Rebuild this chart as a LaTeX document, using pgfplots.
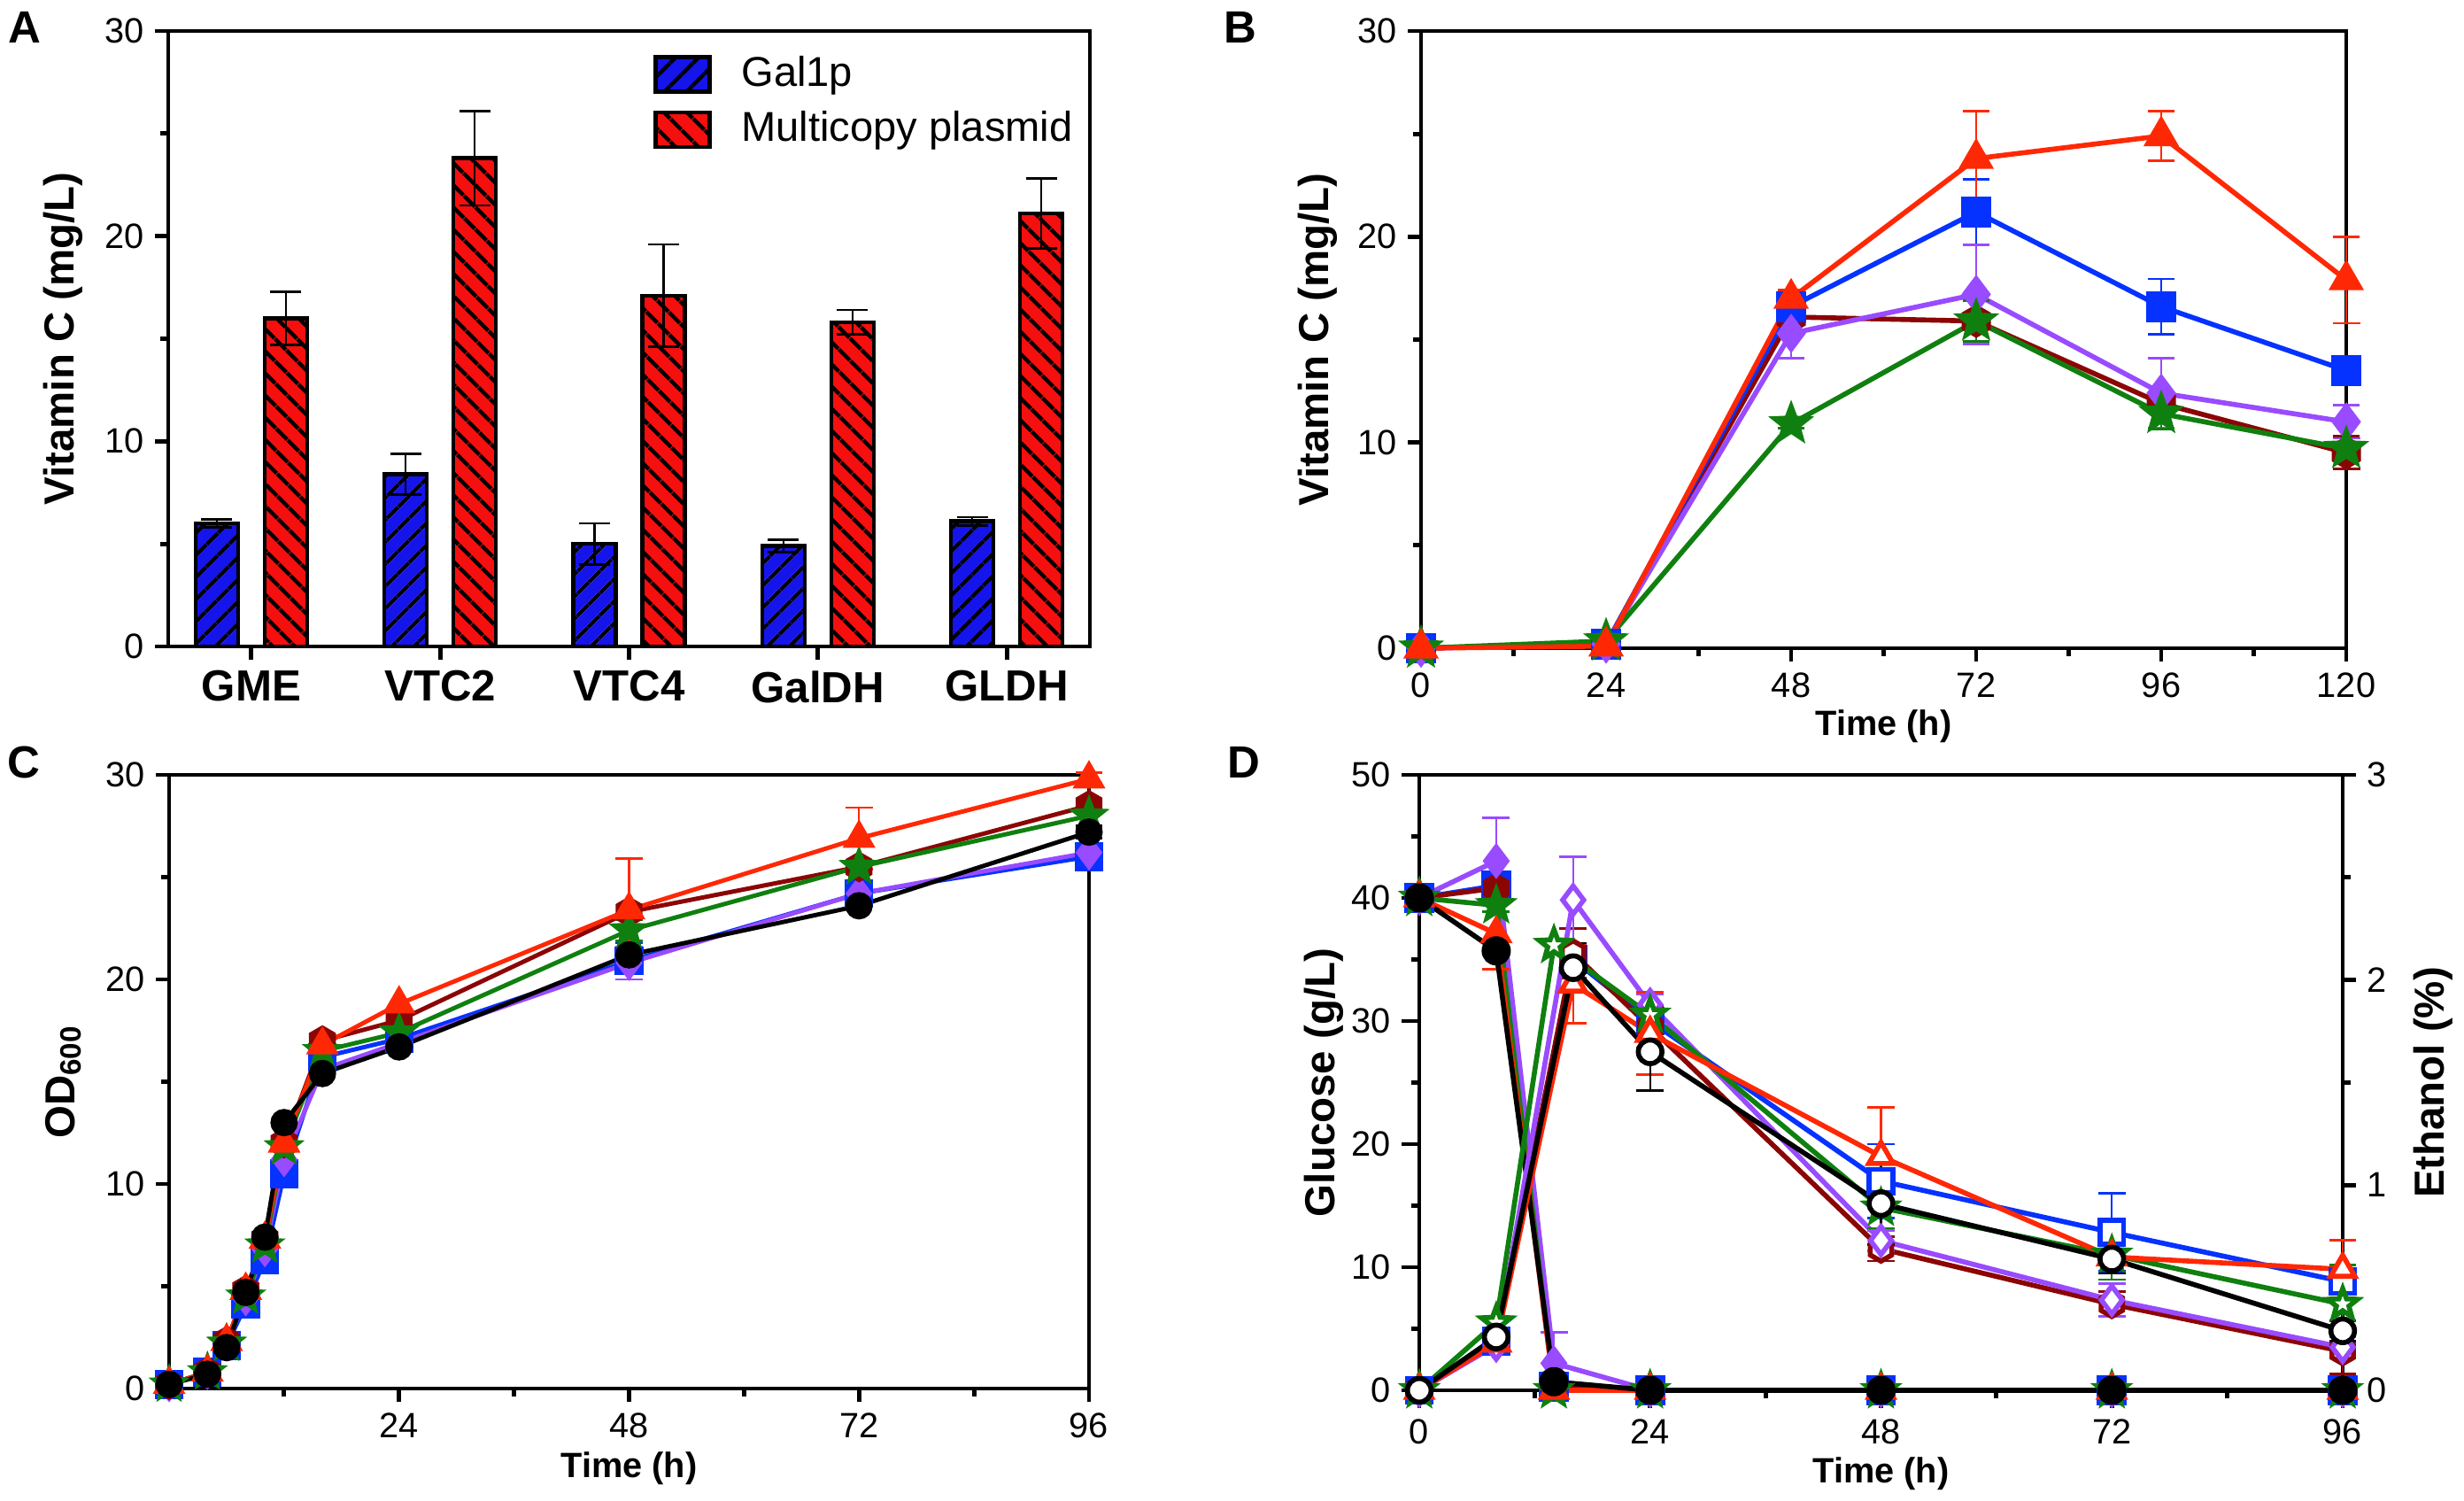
\documentclass[border=0pt]{standalone}
\usepackage{fontspec}
\setmainfont{Liberation Sans}
\usepackage{pgfplots}
\pgfplotsset{compat=1.18}
\usetikzlibrary{patterns.meta}

\definecolor{cblue}{RGB}{5,50,255}
\definecolor{cred}{RGB}{255,40,5}
\definecolor{cbrown}{RGB}{140,5,5}
\definecolor{cpurple}{RGB}{153,75,255}
\definecolor{cgreen}{RGB}{15,128,15}
\definecolor{barblue}{RGB}{20,20,235}
\definecolor{barred}{RGB}{245,15,15}

\newcommand\tickfont{\fontsize{11.3}{13}\selectfont}
\newcommand\labfont{\bfseries\fontsize{13.5}{15}\selectfont}
\newcommand\timefont{\bfseries\fontsize{11.3}{13}\selectfont}
\newcommand\catfont{\bfseries\fontsize{14}{16}\selectfont}
\newcommand\legfont{\fontsize{13.4}{15}\selectfont}
\newcommand\letfont{\bfseries\fontsize{14.5}{16}\selectfont}

% filled hexagon and five-point star marks
\pgfdeclareplotmark{hexa}{%
  \pgfpathmoveto{\pgfpointpolar{90}{\pgfplotmarksize}}%
  \pgfpathlineto{\pgfpointpolar{150}{\pgfplotmarksize}}%
  \pgfpathlineto{\pgfpointpolar{210}{\pgfplotmarksize}}%
  \pgfpathlineto{\pgfpointpolar{270}{\pgfplotmarksize}}%
  \pgfpathlineto{\pgfpointpolar{330}{\pgfplotmarksize}}%
  \pgfpathlineto{\pgfpointpolar{30}{\pgfplotmarksize}}%
  \pgfpathclose\pgfusepathqfillstroke}
\pgfdeclareplotmark{fstar}{%
  \pgfpathmoveto{\pgfpointpolar{90}{\pgfplotmarksize}}%
  \pgfpathlineto{\pgfpointpolar{126}{0.42\pgfplotmarksize}}%
  \pgfpathlineto{\pgfpointpolar{162}{\pgfplotmarksize}}%
  \pgfpathlineto{\pgfpointpolar{198}{0.42\pgfplotmarksize}}%
  \pgfpathlineto{\pgfpointpolar{234}{\pgfplotmarksize}}%
  \pgfpathlineto{\pgfpointpolar{270}{0.42\pgfplotmarksize}}%
  \pgfpathlineto{\pgfpointpolar{306}{\pgfplotmarksize}}%
  \pgfpathlineto{\pgfpointpolar{342}{0.42\pgfplotmarksize}}%
  \pgfpathlineto{\pgfpointpolar{18}{\pgfplotmarksize}}%
  \pgfpathlineto{\pgfpointpolar{54}{0.42\pgfplotmarksize}}%
  \pgfpathclose\pgfusepathqfillstroke}

\pgfplotsset{
  panel/.style={scale only axis, clip=false, tick pos=left, tick align=outside,
    axis line style={line width=1.4pt},
    major tick style={line width=1.4pt,black}, minor tick style={line width=1.4pt,black},
    major tick length=0.15cm, minor tick length=0.09cm,
    /pgf/number format/assume math mode=true,
    tick label style={font=\tickfont},
    error bars/error bar style={line width=0.7pt, solid},
    error bars/error mark options={rotate=90, mark size=4.4pt, line width=0.8pt, solid},
  },
  ylab/.style={every axis y label/.style={at={(axis description cs:#1,0.5)}, rotate=90, anchor=center, font=\labfont}},
  xlab/.style={every axis x label/.style={at={(axis description cs:0.5,#1)}, anchor=center, font=\timefont}},
  ser/.style={line width=1.6pt, color=#1, mark options={solid}},
  hatchleg/.style={legend image code/.code={\draw[##1,/tikz/.cd] (0cm,-0.195cm) rectangle (0.61cm,0.195cm);}},
}

\begin{document}
\begin{tikzpicture}
\useasboundingbox (0,0) rectangle (27.83,16.94);

\node[font=\letfont] at (0.28,16.63) {A};
\node[font=\letfont] at (14.01,16.63) {B};
\node[font=\letfont] at (0.27,8.33) {C};
\node[font=\letfont] at (14.05,8.33) {D};

% ---------- A ----------
\begin{axis}[panel, at={(1.90cm,9.64cm)}, anchor=south west,
  width=10.41cm, height=6.95cm,
  ybar, bar width=0.48cm,
  xmin=-0.44, xmax=4.44, ymin=0, ymax=30,
  xtick={0,1,2,3,4}, xticklabels={GME,VTC2,VTC4,GalDH,GLDH},
  xticklabel style={font=\catfont},
  ytick={0,10,20,30}, minor ytick={5,15,25},
  ylabel={Vitamin C (mg/L)}, ylab=-0.114,
  error bars/error mark options={rotate=90, mark size=5pt, line width=0.8pt, solid},
  legend style={at={(0.526,0.965)}, anchor=north west, draw=none, fill=none,
    inner sep=0pt, row sep=0.14cm, font=\legfont,
    nodes={inner sep=1pt, text depth=0.2em},
    /tikz/every odd column/.append style={column sep=0.3cm}},
  legend cell align=left,
]
\addplot[fill=barblue, draw=black, line width=1.3pt, bar shift=-0.39cm, hatchleg,
  postaction={pattern={Lines[angle=45,distance=0.18cm,line width=1.3pt]}, pattern color=black},
  error bars/.cd, y dir=both, y explicit]
  coordinates {(0,6.0) +- (0,0.2) (1,8.4) +- (0,1.0) (2,5.0) +- (0,1.0) (3,4.9) +- (0,0.3) (4,6.1) +- (0,0.2)};
\addlegendentry{Gal1p}
\addplot[fill=barred, draw=black, line width=1.3pt, bar shift=0.39cm, hatchleg,
  postaction={pattern={Lines[angle=-45,distance=0.18cm,line width=1.3pt]}, pattern color=black},
  error bars/.cd, y dir=both, y explicit]
  coordinates {(0,16.0) +- (0,1.3) (1,23.8) +- (0,2.3) (2,17.1) +- (0,2.5) (3,15.8) +- (0,0.6) (4,21.1) +- (0,1.7)};
\addlegendentry{Multicopy plasmid}
\end{axis}

% ---------- B ----------
\begin{axis}[panel, at={(16.05cm,9.62cm)}, anchor=south west,
  width=10.45cm, height=6.97cm,
  xmin=0, xmax=120, ymin=0, ymax=30,
  xtick={0,24,48,72,96,120}, minor xtick={12,36,60,84,108},
  ytick={0,10,20,30}, minor ytick={5,15,25},
  xlabel={Time (h)}, xlab=-0.126,
  ylabel={Vitamin C (mg/L)}, ylab=-0.112,
]
\addplot[ser=cbrown, mark=hexa, mark size=4.5pt, error bars/.cd, y dir=both, y explicit]
  coordinates {(0,0) (24,0.2) (48,16.1) +- (0,0.3) (72,15.9) +- (0,1.0) (96,11.9) +- (0,0.3) (120,9.5) +- (0,0.8)};
\addplot[ser=cblue, mark=square*, mark size=4.1pt, error bars/.cd, y dir=both, y explicit]
  coordinates {(0,0) (24,0.2) (48,16.6) +- (0,0.3) (72,21.2) +- (0,1.6) (96,16.6) +- (0,1.35) (120,13.5) +- (0,0.3)};
\addplot[ser=cpurple, mark=diamond*, mark size=5pt, error bars/.cd, y dir=both, y explicit]
  coordinates {(0,0) (24,0.2) (48,15.3) +- (0,1.2) (72,17.2) +- (0,2.4) (96,12.4) +- (0,1.7) (120,11.0) +- (0,0.8)};
\addplot[ser=cgreen, mark=fstar, mark size=5.5pt, error bars/.cd, y dir=both, y explicit]
  coordinates {(0,0) (24,0.35) (48,10.9) +- (0,0.2) (72,15.9) +- (0,1.0) (96,11.4) +- (0,0.75) (120,9.7) +- (0,0.3)};
\addplot[ser=cred, mark=triangle*, mark size=5pt, error bars/.cd, y dir=both, y explicit]
  coordinates {(0,0) (24,0.1) (48,17.0) +- (0,0.4) (72,23.8) +- (0,2.3) (96,24.9) +- (0,1.2) (120,17.9) +- (0,2.1)};
\end{axis}

% ---------- C ----------
\begin{axis}[panel, at={(1.91cm,1.26cm)}, anchor=south west,
  width=10.39cm, height=6.93cm,
  xmin=0, xmax=96, ymin=0, ymax=30,
  xtick={24,48,72,96}, minor xtick={12,36,60,84},
  ytick={0,10,20,30}, minor ytick={5,15,25},
  xlabel={Time (h)}, xlab=-0.13,
  ylabel={OD\textsubscript{600}}, ylab=-0.115,
]
\addplot[ser=cblue, line width=1.4pt, mark=square*, mark size=3.9pt, error bars/.cd, y dir=both, y explicit]
  coordinates {(0,0.2) (4,0.8) (6,2.1) (8,4.1) (10,6.3) (12,10.5) (16,16.2) (24,17.1) (48,20.9) +- (0,0.9) (72,24.2) (96,26.0)};
\addplot[ser=cpurple, line width=1.4pt, mark=diamond*, mark size=4.6pt, error bars/.cd, y dir=both, y explicit]
  coordinates {(0,0.2) (4,0.8) (6,2.2) (8,4.4) (10,6.8) (12,11.2) (16,15.6) (24,16.9) (48,20.8) +- (0,0.8) (72,24.2) (96,26.2)};
\addplot[ser=cbrown, line width=1.4pt, mark=hexa, mark size=4.2pt, error bars/.cd, y dir=both, y explicit]
  coordinates {(0,0.2) (4,0.8) (6,2.3) (8,4.8) (10,7.3) (12,12.0) (16,17.0) (24,18.0) (48,23.3) (72,25.5) (96,28.5) +- (0,1.1)};
\addplot[ser=cgreen, line width=1.4pt, mark=fstar, mark size=5pt, error bars/.cd, y dir=both, y explicit]
  coordinates {(0,0.2) (4,0.8) (6,2.2) (8,4.5) (10,7.0) (12,11.8) (16,16.5) (24,17.4) (48,22.4) +- (0,0.5) (72,25.5) (96,28.0)};
\addplot[ser=cred, line width=1.4pt, mark=triangle*, mark size=4.7pt, error bars/.cd, y dir=both, y explicit]
  coordinates {(0,0.2) (4,0.8) (6,2.3) (8,4.8) (10,7.3) (12,12.0) (16,16.8) (24,18.8) (48,23.4) +- (0,2.5) (72,26.9) +- (0,1.5) (96,29.8) +- (0,0.3)};
\addplot[ser=black, line width=1.4pt, mark=*, mark size=3.7pt, error bars/.cd, y dir=both, y explicit]
  coordinates {(0,0.2) (4,0.7) (6,2.0) (8,4.7) (10,7.4) (12,13.0) (16,15.4) (24,16.7) (48,21.2) (72,23.6) (96,27.2) +- (0,0.3)};
\end{axis}

% ---------- D : glucose (left) ----------
\begin{axis}[panel, at={(16.03cm,1.24cm)}, anchor=south west,
  width=10.43cm, height=6.95cm,
  xmin=0, xmax=96, ymin=0, ymax=50,
  major tick length=0.2cm,
  xtick={0,24,48,72,96}, minor xtick={12,36,60,84},
  ytick={0,10,20,30,40,50}, minor ytick={5,15,25,35,45},
  xlabel={Time (h)}, xlab=-0.135,
  ylabel={Glucose (g/L)}, ylab=-0.103,
]
\addplot[ser=cblue, mark=square*, mark size=4pt, error bars/.cd, y dir=both, y explicit]
  coordinates {(0,40) (8,41.0) +- (0,0.8) (14,0.3) (24,0) (48,0) (72,0) (96,0)};
\addplot[ser=cbrown, mark=hexa, mark size=4pt, error bars/.cd, y dir=both, y explicit]
  coordinates {(0,40) (8,40.8) +- (0,0.6) (14,0.5) (24,0) (48,0) (72,0) (96,0)};
\addplot[ser=cpurple, mark=diamond*, mark size=4.5pt, error bars/.cd, y dir=both, y explicit]
  coordinates {(0,40) (8,43.0) +- (0,3.5) (14,2.2) +- (0,2.5) (24,0) (48,0) (72,0) (96,0)};
\addplot[ser=cgreen, mark=fstar, mark size=5pt, error bars/.cd, y dir=both, y explicit]
  coordinates {(0,40) (8,39.4) +- (0,0.5) (14,0) (24,0) (48,0) (72,0) (96,0)};
\addplot[ser=cred, mark=triangle*, mark size=4.5pt, error bars/.cd, y dir=both, y explicit]
  coordinates {(0,40) (8,37.1) +- (0,2.9) (14,0) (24,0) (48,0) (72,0) (96,0)};
\addplot[ser=black, mark=*, mark size=3.9pt, error bars/.cd, y dir=both, y explicit]
  coordinates {(0,40) (8,35.7) (14,0.7) (24,0) (48,0) (72,0) (96,0)};
\end{axis}

% ---------- D : ethanol (right) ----------
\begin{axis}[panel, at={(16.03cm,1.24cm)}, anchor=south west,
  width=10.43cm, height=6.95cm,
  xmin=0, xmax=96, ymin=0, ymax=3,
  axis x line=none, axis y line*=right, ytick pos=right,
  ytick={0,1,2,3}, minor ytick={0.5,1.5,2.5},
  ylabel={Ethanol (\%)}, ylab=1.098,
]
\addplot[ser=cblue, mark=square*, mark size=3.8pt, mark options={fill=white}, error bars/.cd, y dir=both, y explicit]
  coordinates {(0,0) (8,0.24) (16,2.10) (24,1.80) (48,1.02) +- (0,0.18) (72,0.77) +- (0,0.19) (96,0.53) +- (0,0.05)};
\addplot[ser=cbrown, mark=hexa, mark size=4pt, mark options={fill=white}, error bars/.cd, y dir=both, y explicit]
  coordinates {(0,0) (8,0.24) (16,2.13) +- (0,0.12) (24,1.77) +- (0,0.1) (48,0.69) +- (0,0.06) (72,0.42) +- (0,0.06) (96,0.19) +- (0,0.11)};
\addplot[ser=cpurple, mark=diamond*, mark size=4.5pt, mark options={fill=white}, error bars/.cd, y dir=both, y explicit]
  coordinates {(0,0) (8,0.22) (16,2.39) +- (0,0.21) (24,1.88) +- (0,0.05) (48,0.73) +- (0,0.05) (72,0.44) +- (0,0.08) (96,0.21) +- (0,0.05)};
\addplot[ser=cgreen, mark=fstar, mark size=5pt, mark options={fill=white}, error bars/.cd, y dir=both, y explicit]
  coordinates {(0,0) (8,0.33) (14,2.17) (24,1.83) (48,0.89) +- (0,0.1) (72,0.66) +- (0,0.12) (96,0.42) +- (0,0.19)};
\addplot[ser=cred, mark=triangle*, mark size=4.5pt, mark options={fill=white}, error bars/.cd, y dir=both, y explicit]
  coordinates {(0,0) (8,0.23) (16,1.98) +- (0,0.19) (24,1.74) +- (0,0.2) (48,1.14) +- (0,0.24) (72,0.65) +- (0,0.03) (96,0.59) +- (0,0.14)};
\addplot[ser=black, mark=*, mark size=3.8pt, mark options={fill=white}, error bars/.cd, y dir=both, y explicit]
  coordinates {(0,0) (8,0.26) (16,2.06) +- (0,0.12) (24,1.65) +- (0,0.19) (48,0.91) +- (0,0.2) (72,0.64) +- (0,0.07) (96,0.29) +- (0,0.05)};
\end{axis}
\end{tikzpicture}
\end{document}
